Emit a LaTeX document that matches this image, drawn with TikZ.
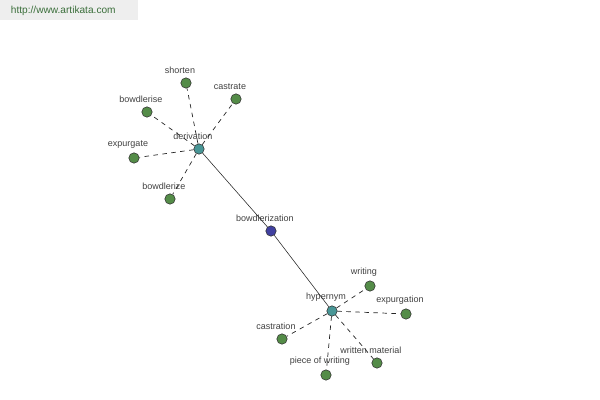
\documentclass[tikz,border=0pt]{standalone}
\usepackage{fontspec}
\setmainfont{Liberation Sans}
\definecolor{akgreen}{RGB}{84, 140, 72}
\definecolor{akteal}{RGB}{72, 150, 150}
\definecolor{akblue}{RGB}{64, 64, 160}
\definecolor{akhead}{RGB}{238, 238, 238}
\definecolor{aktext}{RGB}{58, 110, 58}
\usetikzlibrary{positioning}

\begin{document}
\begin{tikzpicture}[x=0.025cm, y=-0.025cm,
  dot/.style={circle, draw=black!80, line width=0.4pt, inner sep=0pt, minimum size=0.26cm},
  lbl/.style={font=\fontsize{6.4}{7}\selectfont, text=black!75, inner sep=0pt, xshift=-0.15cm},
  link/.style={draw=black!85, line width=0.4pt},
  hop/.style={draw=black!85, line width=0.5pt, dash pattern=on 3.2pt off 3.2pt}]
  \useasboundingbox (0,0) rectangle (600,400);
  % site banner
  \fill[akhead] (0,0) rectangle (138,20);
  \node[font=\fontsize{7.2}{8}\selectfont, text=aktext, anchor=west] (site) at (6,11) {http://www.artikata.com};
  % centre and the two hubs
  \node[dot, fill=akblue, label={[lbl, label distance=0.1cm]above:bowdlerization}] (bowd) at (271,231) {};
  \node[dot, fill=akteal, label={[lbl, label distance=0.1cm]above:derivation}] (deriv) at (199,149) {};
  \node[dot, fill=akteal, label={[lbl, label distance=0.1cm]above:hypernym}] (hyper) at (332,311) {};
  \draw[link] (deriv) -- (bowd);
  \draw[link] (bowd) -- (hyper);
  % derivation leaves
  \foreach \n/\pos/\txt in {shorten/{186,83}/shorten, castrate/{236,99}/castrate,
      bowdlerise/{147,112}/bowdlerise, expurgate/{134,158}/expurgate,
      bowdlerize/{170,199}/bowdlerize} {
    \node[dot, fill=akgreen, label={[lbl, label distance=0.1cm]above:\txt}] (\n) at (\pos) {};
    \draw[hop] (deriv) -- (\n);
  }
  % hypernym leaves
  \foreach \n/\pos/\txt in {writing/{370,286}/writing, expurgation/{406,314}/expurgation,
      castration/{282,339}/castration, written/{377,363}/written material,
      piece/{326,375}/piece of writing} {
    \node[dot, fill=akgreen, label={[lbl, label distance=0.1cm]above:\txt}] (\n) at (\pos) {};
    \draw[hop] (hyper) -- (\n);
  }
\end{tikzpicture}
\end{document}
